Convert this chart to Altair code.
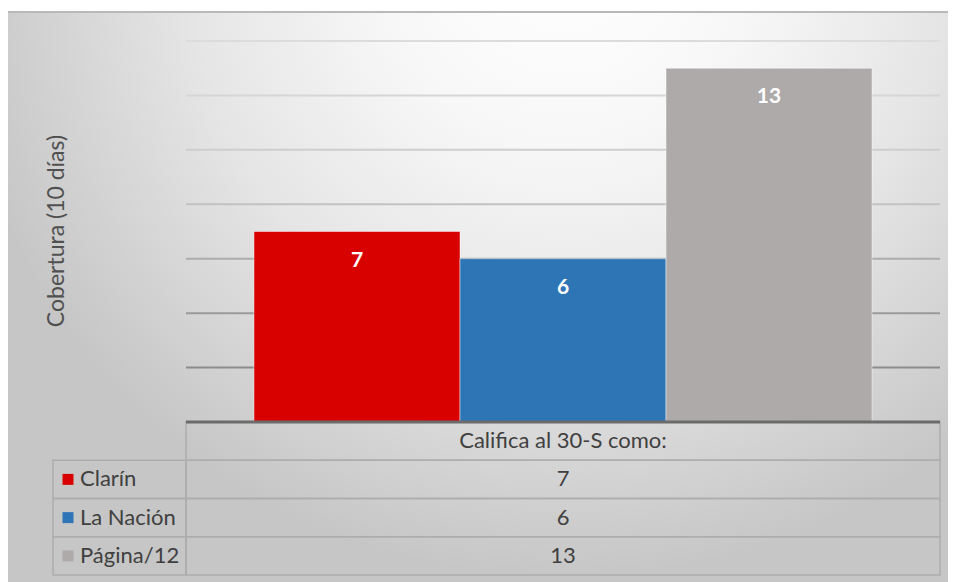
import altair as alt
import pandas as pd

# ---- data ----
papers = ["Clarín", "La Nación", "Página/12"]
values = [7, 6, 13]
bar_colors = ["#d90000", "#2e75b6", "#aeaaaa"]
category = "Califica al 30-S como:"
y_title = "Cobertura (10 días)"
grid_values = [2, 4, 6, 8, 10, 12, 14]
grid_colors = ["#8c8c8c", "#9a9a9a", "#acacac", "#c2c2c2", "#cecece", "#d6d6d6", "#dcdcdc"]

W, H = 754, 381
FONT = "Lato"
TXT = "#404040"
LINE = "#adadad"

bars_df = pd.DataFrame({"paper": papers, "value": values})
grid_df = pd.DataFrame({"g": grid_values})
table_df = pd.DataFrame({"row": papers, "value": values})
header_df = pd.DataFrame({"row": [category]})
allrows_df = pd.DataFrame({"row": [category] + papers})
title_df = pd.DataFrame({"t": [y_title]})
one_df = pd.DataFrame({"k": [0]})

# ---- background ----
bg_gradient = {
    "gradient": "radial",
    "x1": 0.5926, "y1": 0.1415, "r1": 0,
    "x2": 0.5926, "y2": 0.1415, "r2": 0.66,
    "stops": [
        {"offset": 0.0, "color": "#ffffff"},
        {"offset": 0.3, "color": "#f7f7f7"},
        {"offset": 0.6, "color": "#e6e6e6"},
        {"offset": 0.85, "color": "#d2d2d2"},
        {"offset": 1.0, "color": "#c6c6c6"},
    ],
}
bg = alt.Chart(one_df).mark_rect(fill=bg_gradient, strokeWidth=0).encode(
    x=alt.value(-178), x2=alt.value(762), y=alt.value(-29), y2=alt.value(541)
)
top_border = alt.Chart(one_df).mark_rule(color="#b9b9b9", strokeWidth=2).encode(
    x=alt.value(-178), x2=alt.value(762), y=alt.value(-29)
)

# ---- bars ----
x_bar = alt.X("paper:N", sort=papers, axis=None,
              scale=alt.Scale(paddingInner=0, paddingOuter=0.33))
y_val = alt.Y("value:Q", axis=None, scale=alt.Scale(domain=[0, 14]))
color_enc = alt.Color("paper:N", legend=None,
                      scale=alt.Scale(domain=papers, range=bar_colors))

grid = alt.Chart(grid_df).mark_rule(strokeWidth=2).encode(
    y=alt.Y("g:Q", axis=None, scale=alt.Scale(domain=[0, 14])),
    x=alt.value(0), x2=alt.value(W),
    stroke=alt.Stroke("g:O", legend=None,
                      scale=alt.Scale(domain=grid_values, range=grid_colors)),
)
bars = alt.Chart(bars_df).mark_bar(stroke="#ffffff", strokeOpacity=0.45, strokeWidth=1).encode(
    x=x_bar, y=y_val, color=color_enc
)
labels = alt.Chart(bars_df).mark_text(
    font=FONT, fontSize=21, fontWeight="bold", color="white", baseline="middle", dy=29
).encode(x=x_bar, y=y_val, text="value:Q")

bar_group = alt.layer(grid, bars, labels)

# ---- data table ----
row_scale = alt.Scale(domain=[category] + papers, range=[381, 534],
                      paddingInner=0, paddingOuter=0)
y_row = alt.Y("row:N", axis=None, scale=row_scale, sort=[category] + papers)

value_cells = alt.Chart(allrows_df).mark_rect(
    fillOpacity=0, stroke=LINE, strokeWidth=1.5
).encode(y=y_row, x=alt.value(0), x2=alt.value(W))
label_cells = alt.Chart(table_df).mark_rect(
    fillOpacity=0, stroke=LINE, strokeWidth=1.5
).encode(y=y_row, x=alt.value(-133), x2=alt.value(0))
header_text = alt.Chart(header_df).mark_text(
    font=FONT, fontSize=22, color=TXT, baseline="middle", align="center"
).encode(y=y_row, x=alt.value(W / 2), text="row:N")
value_text = alt.Chart(table_df).mark_text(
    font=FONT, fontSize=22, color=TXT, baseline="middle", align="center"
).encode(y=y_row, x=alt.value(W / 2), text="value:Q")
swatches = alt.Chart(table_df).mark_square(size=121, opacity=1, strokeWidth=0).encode(
    y=y_row, x=alt.value(-118),
    color=alt.Color("row:N", legend=None, scale=alt.Scale(domain=papers, range=bar_colors)),
)
label_text = alt.Chart(table_df).mark_text(
    font=FONT, fontSize=22, color=TXT, baseline="middle", align="left"
).encode(y=y_row, x=alt.value(-106), text="row:N")
baseline_rule = alt.Chart(one_df).mark_rule(color="#6b6b6b", strokeWidth=3).encode(
    x=alt.value(0), x2=alt.value(W), y=alt.value(H)
)

table_group = alt.layer(value_cells, label_cells, header_text, value_text,
                        swatches, label_text, baseline_rule)

# ---- axis title ----
title_layer = alt.Chart(title_df).mark_text(
    font=FONT, fontSize=23, color="#505050", angle=270, align="center",
    baseline="alphabetic"
).encode(x=alt.value(-122), y=alt.value(190), text="t:N")

chart = alt.layer(
    alt.layer(bg, top_border), bar_group, table_group, title_layer
).resolve_scale(
    y="independent", x="independent", color="independent"
).properties(
    width=W, height=H,
    padding={"left": 178, "top": 33, "right": 8, "bottom": 160},
    autosize=alt.AutoSizeParams(type="none"),
    background="white",
).configure_view(stroke=None)

chart.save("out.html", embed_options={"renderer": "svg", "actions": False})
